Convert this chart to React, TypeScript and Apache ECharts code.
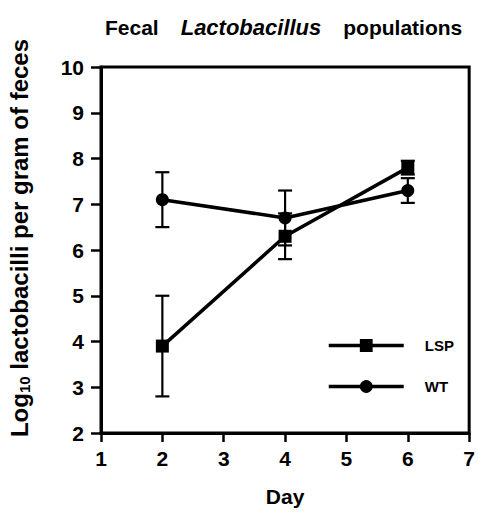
import React, { useEffect, useRef } from "react";
import * as echarts from "echarts";

const days = [2, 4, 6];
const lspMean = [3.9, 6.3, 7.8];
const lspErr = [1.1, 0.5, 0.15];
const wtMean = [7.1, 6.7, 7.3];
const wtErr = [0.6, 0.6, 0.27];
const seriesNames = ["LSP", "WT"];

const FONT = "'Liberation Sans', Arial, sans-serif";

function errData(means: number[], errs: number[]) {
  return days.map((d, i) => [d, means[i] - errs[i], means[i] + errs[i]]);
}

function errRender(params: any, api: any) {
  const x = api.value(0);
  const lo = api.coord([x, api.value(1)]);
  const hi = api.coord([x, api.value(2)]);
  const cap = 7;
  const style = { stroke: "#000", lineWidth: 2.2 };
  return {
    type: "group",
    children: [
      { type: "line", shape: { x1: lo[0], y1: lo[1], x2: hi[0], y2: hi[1] }, style },
      { type: "line", shape: { x1: lo[0] - cap, y1: lo[1], x2: lo[0] + cap, y2: lo[1] }, style },
      { type: "line", shape: { x1: hi[0] - cap, y1: hi[1], x2: hi[0] + cap, y2: hi[1] }, style },
    ],
  };
}

export default function App() {
  const ref = useRef<HTMLDivElement>(null);
  useEffect(() => {
    if (!ref.current) return;
    const chart = echarts.init(ref.current, null, { renderer: "svg" });
    chart.setOption({
      animation: false,
      backgroundColor: "#fff",
      title: {
        text: "Fecal{g| }{i|Lactobacillus}{g| }populations",
        left: 100,
        top: 11,
        textStyle: {
          fontFamily: FONT,
          fontWeight: "bold",
          fontSize: 21,
          color: "#000",
          rich: {
            i: { fontFamily: FONT, fontWeight: "bold", fontStyle: "italic", fontSize: 22, color: "#000" },
            g: { width: 22, fontSize: 21 },
          },
        },
      },
      graphic: [
        {
          type: "text",
          x: 19,
          y: 238,
          rotation: Math.PI / 2,
          style: {
            text: "Log{sub|10} lactobacilli per gram of feces",
            align: "center",
            verticalAlign: "middle",
            fontFamily: FONT,
            fontWeight: "bold",
            fontSize: 24,
            fill: "#000",
            rich: {
              sub: {
                fontFamily: FONT,
                fontWeight: "bold",
                fontSize: 15,
                fill: "#000",
                verticalAlign: "bottom",
                padding: [10, 0, 0, 0],
              },
            },
          },
        },
      ],
      grid: {
        left: 101,
        right: 6,
        top: 67,
        bottom: 75,
        show: true,
        borderColor: "#000",
        borderWidth: 3,
        backgroundColor: "transparent",
      },
      legend: {
        orient: "vertical",
        left: 322,
        top: 333,
        itemWidth: 75,
        itemHeight: 16,
        itemGap: 26,
        data: seriesNames,
        lineStyle: { width: 3.5, color: "#000" },
        textStyle: {
          fontFamily: FONT,
          fontWeight: "bold",
          fontSize: 15,
          color: "#000",
          padding: [0, 0, 0, 16],
        },
      },
      xAxis: {
        type: "value",
        min: 1,
        max: 7,
        interval: 1,
        name: "Day",
        nameLocation: "middle",
        nameGap: 53,
        nameTextStyle: { fontFamily: FONT, fontWeight: "bold", fontSize: 21, color: "#000" },
        axisLine: { show: true, lineStyle: { color: "#000", width: 3 } },
        axisTick: { show: true, length: 9, lineStyle: { color: "#000", width: 2.5 } },
        axisLabel: { margin: 15, fontFamily: FONT, fontWeight: "bold", fontSize: 21, color: "#000" },
        splitLine: { show: false },
      },
      yAxis: {
        type: "value",
        min: 2,
        max: 10,
        interval: 1,
        axisLine: { show: true, lineStyle: { color: "#000", width: 3 } },
        axisTick: { show: true, length: 10, lineStyle: { color: "#000", width: 2.5 } },
        axisLabel: { margin: 17, fontFamily: FONT, fontWeight: "bold", fontSize: 21, color: "#000" },
        splitLine: { show: false },
      },
      series: [
        {
          type: "custom",
          name: "lspErr",
          renderItem: errRender,
          data: errData(lspMean, lspErr),
          z: 1,
          silent: true,
        },
        {
          type: "custom",
          name: "wtErr",
          renderItem: errRender,
          data: errData(wtMean, wtErr),
          z: 1,
          silent: true,
        },
        {
          type: "line",
          name: "LSP",
          data: days.map((d, i) => [d, lspMean[i]]),
          symbol: "rect",
          symbolSize: 13,
          lineStyle: { color: "#000", width: 3.5 },
          itemStyle: { color: "#000" },
          z: 3,
        },
        {
          type: "line",
          name: "WT",
          data: days.map((d, i) => [d, wtMean[i]]),
          symbol: "circle",
          symbolSize: 13,
          lineStyle: { color: "#000", width: 3.5 },
          itemStyle: { color: "#000" },
          z: 3,
        },
      ],
    });
    return () => chart.dispose();
  }, []);
  return (
    <div
      ref={ref}
      style={{ position: "fixed", left: 0, top: 0, width: 478, height: 512 }}
    />
  );
}
